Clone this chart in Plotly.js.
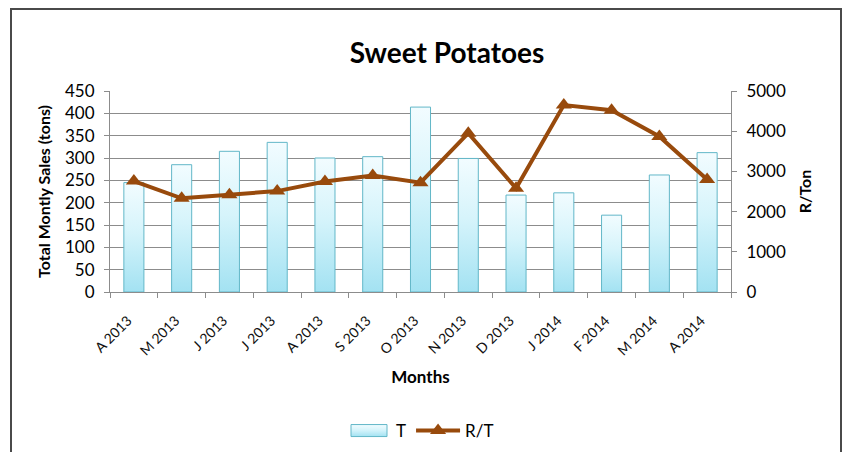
<!DOCTYPE html>
<html>
<head>
<meta charset="utf-8">
<script src="https://cdn.plot.ly/plotly-3.0.1.min.js"></script>
<style>
  html, body { margin: 0; padding: 0; background: #fff; }
  #wrap { position: relative; width: 846px; height: 452px; overflow: hidden; }
  #chart { position: absolute; left: 0; top: 0; width: 846px; height: 452px; }
  #frame { position: absolute; left: 10px; top: 8px; width: 828px; height: 470px;
           border: 2px solid #4a4a4a; pointer-events: none; }
</style>
</head>
<body>
<div id="wrap">
  <div id="chart"></div>
  <div id="frame"></div>
</div>
<script>
// Monthly sweet potato sales (tons) and price per ton, Apr 2013 - Apr 2014
const monthKeys = ['2013-04', '2013-05', '2013-06', '2013-07', '2013-08', '2013-09', '2013-10',
                   '2013-11', '2013-12', '2014-01', '2014-02', '2014-03', '2014-04'];
const monthLabels = ['A 2013', 'M 2013', 'J 2013', 'J 2013', 'A 2013', 'S 2013', 'O 2013',
                     'N 2013', 'D 2013', 'J 2014', 'F 2014', 'M 2014', 'A 2014'];
const tons = [245, 285, 315, 335, 300, 303, 414, 299, 217, 222, 172, 262, 312];
const randPerTon = [2760, 2330, 2420, 2510, 2750, 2900, 2720, 3950, 2580, 4650, 4520, 3870, 2800];

const FONT = 'Lato, "Open Sans", sans-serif';
const GRID = '#8c8c8c';
const BROWN = '#984a0c';

const traces = [
  {
    type: 'bar',
    name: 'T',
    x: monthKeys,
    y: tons,
    marker: { color: '#c9eff8', line: { color: '#62b7c8', width: 1 } },
    hoverinfo: 'x+y'
  },
  {
    type: 'scatter',
    mode: 'lines+markers',
    name: 'R/T',
    x: monthKeys,
    y: randPerTon,
    yaxis: 'y2',
    line: { color: BROWN, width: 4 },
    marker: { symbol: 'triangle-up', size: 14, color: BROWN }
  }
];

const layout = {
  width: 846,
  height: 452,
  margin: { l: 110, r: 115, t: 91, b: 160, autoexpand: false },
  paper_bgcolor: 'rgba(0,0,0,0)',
  plot_bgcolor: 'rgba(0,0,0,0)',
  font: { family: FONT, color: '#000' },
  showlegend: true,
  bargap: 0.58,
  title: {
    text: '<b>Sweet Potatoes</b>',
    font: { family: FONT, size: 28, color: '#000' },
    x: 447 / 846, xref: 'container', xanchor: 'center',
    y: 1 - 53 / 452, yref: 'container', yanchor: 'middle'
  },
  xaxis: {
    type: 'category',
    range: [-0.5, monthKeys.length - 0.5],
    tickmode: 'array',
    tickvals: monthKeys,
    ticktext: monthLabels,
    tickangle: -45,
    tickson: 'boundaries',
    ticks: 'outside',
    ticklen: 5,
    tickcolor: GRID,
    ticklabelstandoff: 14,
    ticklabelshift: -6,
    showline: true,
    linecolor: GRID,
    linewidth: 1,
    showgrid: false,
    tickfont: { family: FONT, size: 14, color: '#111' },
    title: { text: '<b>Months</b>', font: { family: FONT, size: 17, color: '#000' }, standoff: 13 },
    automargin: false
  },
  yaxis: {
    range: [0, 450],
    dtick: 50,
    showgrid: true,
    gridcolor: GRID,
    gridwidth: 1,
    showline: true,
    linecolor: GRID,
    ticks: 'outside',
    ticklen: 5,
    tickcolor: GRID,
    ticklabelstandoff: 6,
    zeroline: false,
    tickfont: { family: FONT, size: 17, color: '#000' },
    title: { text: '<b>Total Montly Sales (tons)</b>', font: { family: FONT, size: 16, color: '#000' }, standoff: 10 },
    automargin: false
  },
  yaxis2: {
    overlaying: 'y',
    side: 'right',
    range: [0, 5000],
    dtick: 1000,
    showgrid: false,
    showline: true,
    linecolor: GRID,
    ticks: 'outside',
    ticklen: 5,
    tickcolor: GRID,
    ticklabelstandoff: 6,
    zeroline: false,
    tickfont: { family: FONT, size: 17, color: '#000' },
    title: { text: '<b>R/Ton</b>', font: { family: FONT, size: 16, color: '#000' }, standoff: 14 },
    automargin: false
  },
  legend: {
    orientation: 'h',
    x: 0.5, xanchor: 'center',
    y: (292 - 431) / 201, yanchor: 'middle',
    itemwidth: 44,
    font: { family: FONT, size: 17, color: '#000' },
    bgcolor: 'rgba(0,0,0,0)'
  }
};

const chartDiv = document.getElementById('chart');

// vertical light-to-cyan fill for the bars, and a wide rectangular legend key
function styleBars(gd) {
  const svg = gd.querySelector('svg.main-svg');
  if (!svg) return;
  const ns = 'http://www.w3.org/2000/svg';
  if (!document.getElementById('barFill')) {
    let defs = svg.querySelector('defs');
    if (!defs) { defs = document.createElementNS(ns, 'defs'); svg.insertBefore(defs, svg.firstChild); }
    const grad = document.createElementNS(ns, 'linearGradient');
    grad.setAttribute('id', 'barFill');
    grad.setAttribute('x1', '0'); grad.setAttribute('y1', '0');
    grad.setAttribute('x2', '0'); grad.setAttribute('y2', '1');
    [['0', '#f2fcff'], ['0.45', '#d6f4fb'], ['1', '#a3e2f2']].forEach(function (s) {
      const stop = document.createElementNS(ns, 'stop');
      stop.setAttribute('offset', s[0]);
      stop.setAttribute('stop-color', s[1]);
      grad.appendChild(stop);
    });
    defs.appendChild(grad);
  }
  gd.querySelectorAll('.barlayer .point path').forEach(function (p) {
    p.style.fill = 'url(#barFill)';
  });
  gd.querySelectorAll('.legend .legendpoints path').forEach(function (p) {
    if (p.closest('.traces') && p.parentNode && p.parentNode.querySelector('path') === p &&
        p.getAttribute('d') && p.getAttribute('d').indexOf('H') >= 0 && p.getAttribute('d').indexOf('V') >= 0) {
      p.setAttribute('d', 'M18,6H-18V-6H18Z');
      p.style.fill = 'url(#barFill)';
    }
  });
}

Plotly.newPlot(chartDiv, traces, layout, { displayModeBar: false, staticPlot: true }).then(function (gd) {
  styleBars(gd);
  gd.on('plotly_afterplot', function () { styleBars(gd); });
  setTimeout(function () { styleBars(gd); }, 50);
});
</script>
</body>
</html>
